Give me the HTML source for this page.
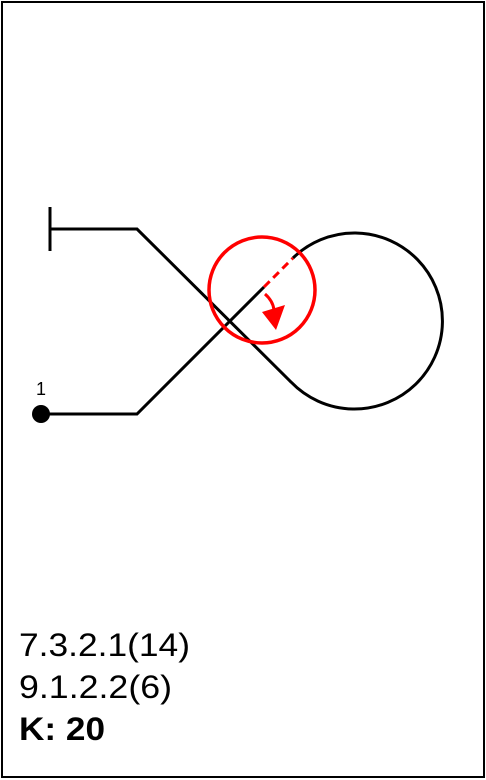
<!DOCTYPE html>
<html><head><meta charset="utf-8"><style>
html,body{margin:0;padding:0;background:#fff;}
svg{display:block;}
text{font-family:"Liberation Sans",Arial,sans-serif;}
.big{font-size:32px;}
.lbl{font-size:18px;}
</style></head><body>
<svg width="486" height="780" viewBox="0 0 486 780">
<rect x="2" y="2" width="482" height="775" fill="#fff" stroke="#000" stroke-width="2"/>
<g fill="none" stroke="#000" stroke-width="3">
<path d="M41 414 L137 414 L264 287"/>
<path d="M293 258 A88 88 0 1 1 291 382 L137 229 L50 229"/>
<line x1="50" y1="207" x2="50" y2="251"/>
</g>
<circle cx="41" cy="414" r="9" fill="#000"/>
<text x="41" y="395" class="lbl" text-anchor="middle">1</text>
<line x1="264" y1="287" x2="293" y2="258" stroke="#f00" stroke-width="3" stroke-dasharray="8,5"/>
<circle cx="262" cy="290" r="53" fill="none" stroke="#f00" stroke-width="3.5"/>
<path d="M265 294 Q273 301 274 310" fill="none" stroke="#f00" stroke-width="3"/>
<polygon points="262,312 285,305 276,330" fill="#f00"/>
<text x="19" y="656" class="big" textLength="171" lengthAdjust="spacingAndGlyphs">7.3.2.1(14)</text>
<text x="19" y="698" class="big" textLength="153" lengthAdjust="spacingAndGlyphs">9.1.2.2(6)</text>
<text x="19" y="740" class="big" font-weight="bold" textLength="86" lengthAdjust="spacingAndGlyphs">K: 20</text>
</svg>
</body></html>
